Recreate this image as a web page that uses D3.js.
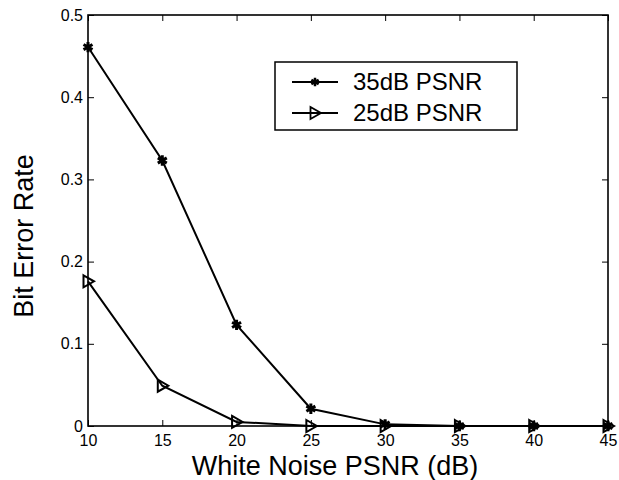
<!DOCTYPE html>
<html>
<head>
<meta charset="utf-8">
<script src="https://cdn.jsdelivr.net/npm/d3@7"></script>
<style>
body { margin: 0; background: #fff; }
svg text { font-family: "Liberation Sans", Arial, Helvetica, sans-serif; fill: #000; }
</style>
</head>
<body>
<div id="chart"></div>
<script>
// data
var noisePsnr = [10, 15, 20, 25, 30, 35, 40, 45];
var ber35 = [0.461, 0.323, 0.123, 0.021, 0.002, 0, 0, 0];
var ber25 = [0.176, 0.049, 0.005, 0, 0, 0, 0, 0];
var seriesNames = ["35dB PSNR", "25dB PSNR"];
var xTicks = [10, 15, 20, 25, 30, 35, 40, 45];
var yTicks = [0, 0.1, 0.2, 0.3, 0.4, 0.5];

var W = 619, H = 480;
// plot box (don't call it "top", that's window.top)
var pL = 88, pR = 608, pT = 15, pB = 426;

var svg = d3.select("#chart").append("svg")
    .attr("width", W).attr("height", H);

var x = d3.scaleLinear().domain([10, 45]).range([pL, pR]);
var y = d3.scaleLinear().domain([0, 0.5]).range([pB, pT]);

// axes, ticks pointing inward like matlab
function styleAxis(g) {
  g.select(".domain").remove();
  g.selectAll(".tick line").attr("stroke", "#000").attr("stroke-width", 1);
  g.selectAll(".tick text").style("font-size", "16px");
}

svg.append("g").attr("transform", "translate(0," + pB + ")")
  .call(d3.axisBottom(x).tickValues(xTicks).tickSize(-6).tickPadding(9).tickFormat(d3.format("d")))
  .call(styleAxis);
svg.append("g").attr("transform", "translate(0," + pT + ")")
  .call(d3.axisTop(x).tickValues(xTicks).tickSize(-6).tickFormat(""))
  .call(styleAxis);
svg.append("g").attr("transform", "translate(" + pL + ",0)")
  .call(d3.axisLeft(y).tickValues(yTicks).tickSize(-6).tickPadding(5).tickFormat(function(d){ return d === 0 ? "0" : d3.format(".1f")(d); }))
  .call(styleAxis);
svg.append("g").attr("transform", "translate(" + pR + ",0)")
  .call(d3.axisRight(y).tickValues(yTicks).tickSize(-6).tickFormat(""))
  .call(styleAxis);

svg.append("rect")
  .attr("x", pL).attr("y", pT)
  .attr("width", pR - pL).attr("height", pB - pT)
  .attr("fill", "none").attr("stroke", "#000").attr("stroke-width", 1.6);

// axis titles
svg.append("text")
  .attr("x", 335).attr("y", 475)
  .attr("text-anchor", "middle")
  .style("font-size", "27px")
  .text("White Noise PSNR (dB)");

svg.append("text")
  .attr("transform", "translate(33,236) rotate(-90)")
  .attr("text-anchor", "middle")
  .style("font-size", "27px")
  .text("Bit Error Rate");

var line = d3.line()
  .x(function(d, i) { return x(noisePsnr[i]); })
  .y(function(d) { return y(d); });

var star = d3.symbol().type(d3.symbolAsterisk).size(75);
var tri = "M-4.5,-6 L6,0 L-4.5,6 Z";

function drawSeries(vals, kind) {
  svg.append("path").datum(vals)
    .attr("d", line)
    .attr("fill", "none").attr("stroke", "#000").attr("stroke-width", 2);
  var m = svg.append("g").selectAll("path").data(vals).enter().append("path")
    .attr("transform", function(d, i) { return "translate(" + x(noisePsnr[i]) + "," + y(d) + ")"; });
  if (kind === "star") {
    m.attr("d", star()).attr("stroke", "#000").attr("stroke-width", 3).attr("fill", "#000");
  } else {
    m.attr("d", tri).attr("stroke", "#000").attr("stroke-width", 2).attr("fill", "none");
  }
}

drawSeries(ber35, "star");
drawSeries(ber25, "tri");

// legend
var lg = svg.append("g");
lg.append("rect")
  .attr("x", 275).attr("y", 62).attr("width", 242).attr("height", 68)
  .attr("fill", "#fff").attr("stroke", "#000").attr("stroke-width", 1.5);
var rows = [82, 113];
seriesNames.forEach(function(name, i) {
  lg.append("line")
    .attr("x1", 292).attr("x2", 338).attr("y1", rows[i]).attr("y2", rows[i])
    .attr("stroke", "#000").attr("stroke-width", 2);
  var mk = lg.append("path").attr("transform", "translate(315," + rows[i] + ")");
  if (i === 0) mk.attr("d", d3.symbol().type(d3.symbolAsterisk).size(50)()).attr("stroke", "#000").attr("stroke-width", 2.5);
  else mk.attr("d", tri).attr("stroke", "#000").attr("stroke-width", 1.8).attr("fill", "none");
  lg.append("text")
    .attr("x", 353).attr("y", rows[i] + 8)
    .style("font-size", "24px")
    .text(name);
});
</script>
</body>
</html>
